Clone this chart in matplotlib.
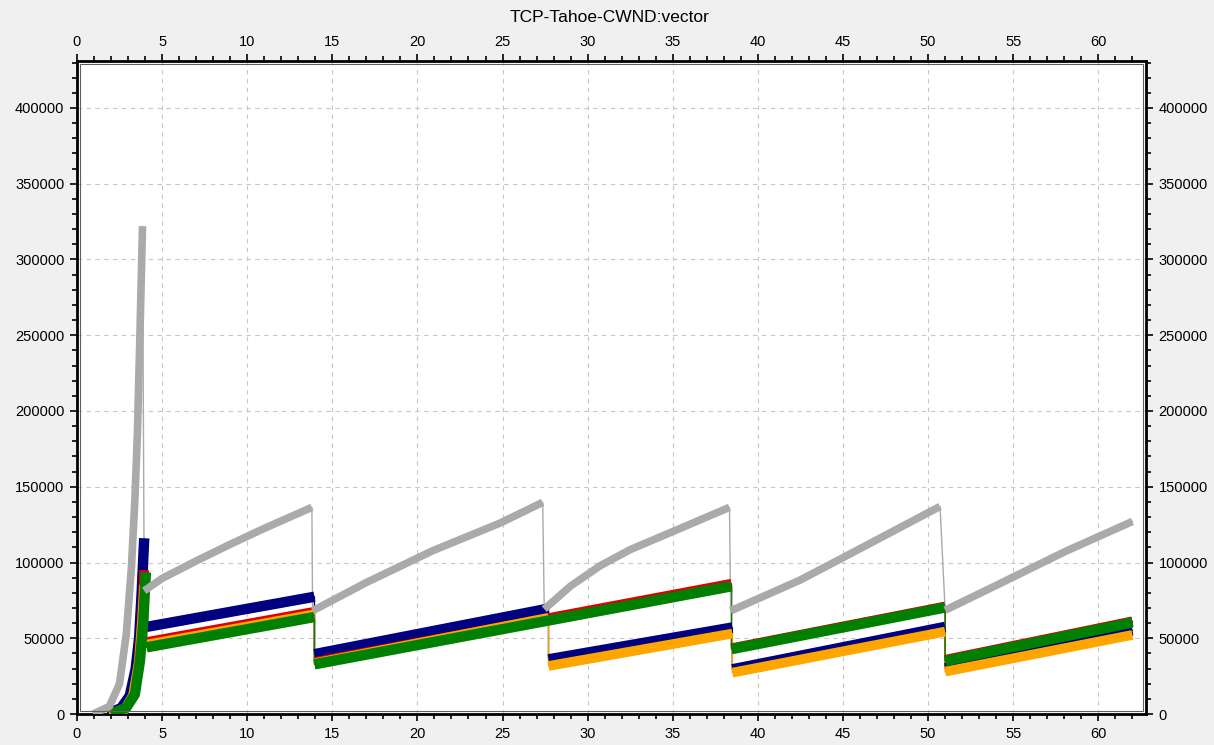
"""
TCP-Tahoe-CWND:vector  -- congestion window of five TCP Tahoe hosts.
Values read off the OMNeT++ vector plot; each series is a list of
segments (slow start / congestion-avoidance ramps), drops are drawn thin.
"""

import matplotlib
matplotlib.use("Agg")
import matplotlib.pyplot as plt
from matplotlib.patches import Rectangle
from matplotlib.ticker import MultipleLocator

# ---- data (time in s, cwnd in bytes), one list of segments per host ----
GRAY_SEGS = [
    ([0.95, 1.9, 2.5, 2.9, 3.2, 3.4, 3.55, 3.7, 3.85],
     [0, 5000, 20000, 53000, 97000, 141000, 185000, 251000, 322000]),
    ([3.95, 5.0, 7.0, 9.0, 11.0, 13.8],
     [81300, 89500, 101000, 112000, 122500, 136400]),
    ([13.84, 17.0, 20.9, 24.85, 27.36],
     [68100, 86800, 107800, 126000, 139700]),
    ([27.45, 29.0, 30.74, 32.5, 34.66, 38.33],
     [69200, 84500, 97900, 108500, 118800, 136400]),
    ([38.4, 42.5, 46.4, 50.7],
     [68100, 88500, 111500, 137000]),
    ([51.0, 54.2, 58.1, 62.0],
     [68500, 86000, 107500, 127100]),
]
NAVY_SEGS = [
    ([1.8, 2.6, 3.1, 3.45, 3.65, 3.8, 3.95],
     [0, 4000, 12000, 30000, 50000, 80000, 116000]),
    ([4.09, 13.95], [57500, 77400]),
    ([13.95, 27.7], [39500, 69600]),
    ([27.7, 38.5], [36100, 57100]),
    ([38.5, 51.0], [29500, 57500]),
    ([51.0, 62.0], [30200, 55300]),
]
RED_SEGS = [
    ([1.9, 2.8, 3.3, 3.6, 3.8, 3.95],
     [0, 3000, 12000, 32000, 60000, 95000]),
    ([4.09, 13.95], [47500, 67500]),
    ([13.95, 38.45], [34300, 86000]),
    ([38.45, 51.0], [43400, 71000]),
    ([51.0, 62.0], [35800, 61200]),
]
ORANGE_SEGS = [
    ([1.9, 2.8, 3.3, 3.65, 3.85, 3.95],
     [0, 3000, 12500, 35000, 65000, 85000]),
    ([4.09, 13.95], [45800, 65800]),
    ([13.95, 27.7], [33500, 63500]),
    ([27.7, 38.5], [31700, 53100]),
    ([38.5, 51.0], [27300, 54400]),
    ([51.0, 62.0], [28000, 52200]),
]
GREEN_SEGS = [
    ([2.0, 2.9, 3.4, 3.7, 3.9, 4.0, 4.05],
     [0, 4200, 13000, 35000, 61500, 83500, 93500]),
    ([4.09, 13.95], [44000, 64000]),
    ([13.95, 38.45], [32800, 84300]),
    ([38.45, 51.0], [42800, 70300]),
    ([51.0, 62.0], [35000, 60400]),
]

SERIES = [  # drawing order: bottom to top
    (NAVY_SEGS, "#000080", 7.5),
    (RED_SEGS, "#e00000", 7.0),
    (ORANGE_SEGS, "#ffa500", 7.0),
    (GREEN_SEGS, "#008000", 7.5),
    (GRAY_SEGS, "#aaaaaa", 5.5),
]

plt.rcParams["font.family"] = ["Liberation Sans", "DejaVu Sans"]

fig = plt.figure(figsize=(12.14, 7.45), dpi=100, facecolor="#f0f0f0")
ax = fig.add_axes([0.0634, 0.0416, 0.8806, 0.8765])
ax.set_facecolor("white")

for segs, color, lw in SERIES:
    xs = [x for sx, _ in segs for x in sx]
    ys = [y for _, sy in segs for y in sy]
    ax.plot(xs, ys, color=color, lw=1.0, zorder=2)            # thin connecting line
    for sx, sy in segs:                                        # dense-marker band
        ax.plot(sx, sy, color=color, lw=lw, solid_capstyle="butt",
                solid_joinstyle="round", zorder=3)

ax.set_xlim(0, 62.8)
ax.set_ylim(0, 431000)
ax.xaxis.set_major_locator(MultipleLocator(5))
ax.xaxis.set_minor_locator(MultipleLocator(1))
ax.yaxis.set_major_locator(MultipleLocator(50000))
ax.yaxis.set_minor_locator(MultipleLocator(10000))
ax.tick_params(which="both", direction="out", top=True, right=True,
               labeltop=True, labelright=True, labelsize=10.5,
               color="black", width=1.2, pad=4)
ax.tick_params(which="major", length=5)
ax.tick_params(which="minor", length=3.5)

ax.grid(True, which="major", color="#c8c8c8", ls=(0, (4, 4)), lw=0.8, zorder=1)
for sp in ax.spines.values():
    sp.set_linewidth(2.0)
    sp.set_color("black")
ax.add_patch(Rectangle((0.0025, 0.004), 0.995, 0.992, transform=ax.transAxes,
                       fill=False, ec="#606060", lw=0.8, zorder=4))

fig.text(0.502, 0.977, "TCP-Tahoe-CWND:vector", ha="center", va="center",
         fontsize=12.5)

fig.savefig("out.png", dpi=100, facecolor=fig.get_facecolor())
